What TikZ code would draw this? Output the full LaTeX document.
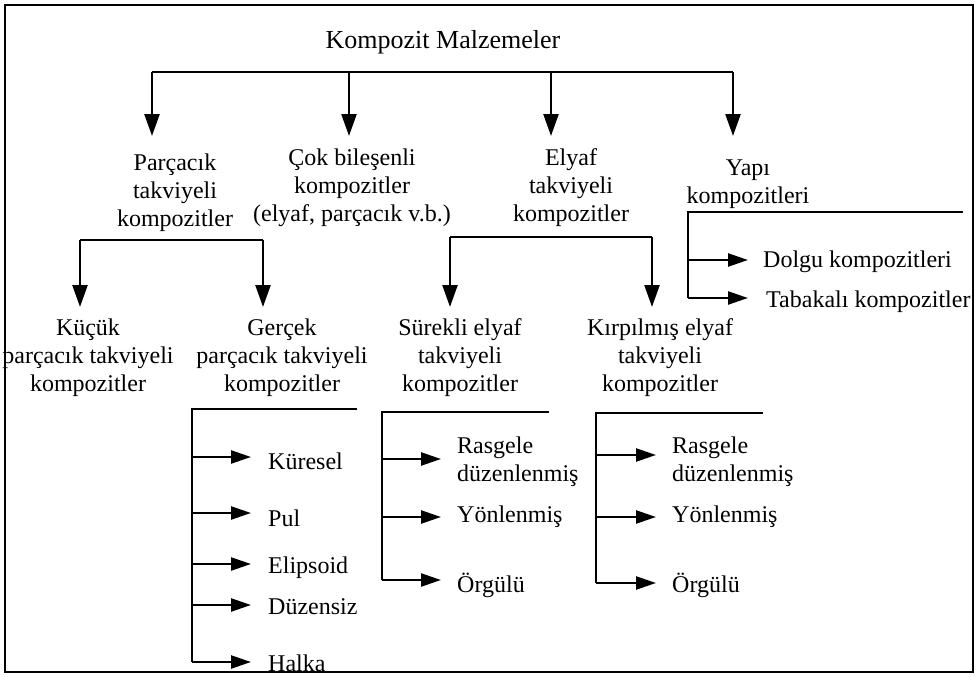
\documentclass[tikz,border=0pt]{standalone}
\usepackage{fontspec}
\setmainfont{Liberation Serif}
\usetikzlibrary{arrows.meta}
\begin{document}
\begin{tikzpicture}[x=1pt,y=-1pt,
  lbl/.style={font=\fontsize{24}{28}\selectfont, inner sep=0pt, align=center},
  lft/.style={lbl, align=left, anchor=west},
  ln/.style={line width=2.4pt},
  arr/.style={ln, -{Triangle[length=22pt,width=15pt]}},
  sarr/.style={ln, -{Triangle[length=20pt,width=13pt]}}]
\useasboundingbox (0,0) rectangle (978,677);
\draw[line width=2.8pt] (5,5) rectangle (973,672);

% root
\node[lbl, font=\fontsize{26}{30}\selectfont] (root) at (443,42) {Kompozit Malzemeler};

% level 2
\node[lbl] (P) at (175,193) {Parçacık\\takviyeli\\kompozitler};
\node[lbl] (C) at (352,188) {Çok bileşenli\\kompozitler\\(elyaf, parçacık v.b.)};
\node[lbl] (E) at (571,188) {Elyaf\\takviyeli\\kompozitler};
\node[lbl] (Y) at (748,184) {Yapı\\kompozitleri};

\coordinate (j1a) at (152,72);
\coordinate (j1b) at (349,72);
\coordinate (j1c) at (551,72);
\coordinate (j1d) at (733,72);
\coordinate (e1a) at (152,136);
\coordinate (e1b) at (349,136);
\coordinate (e1c) at (551,136);
\coordinate (e1d) at (733,136);
\draw[ln] (j1a) -- (j1d);
\draw[arr] (j1a) -- (e1a);
\draw[arr] (j1b) -- (e1b);
\draw[arr] (j1c) -- (e1c);
\draw[arr] (j1d) -- (e1d);

% level 3
\node[lbl] (K) at (88,358) {Küçük\\parçacık takviyeli\\kompozitler};
\node[lbl] (G) at (282,358) {Gerçek\\parçacık takviyeli\\kompozitler};
\node[lbl] (S) at (460,358) {Sürekli elyaf\\takviyeli\\kompozitler};
\node[lbl] (R) at (660,358) {Kırpılmış elyaf\\takviyeli\\kompozitler};

\coordinate (pL) at (80,240);
\coordinate (pR) at (263,240);
\coordinate (pLe) at (80,307);
\coordinate (pRe) at (263,307);
\draw[ln] (pL) -- (pR);
\draw[arr] (pL) -- (pLe);
\draw[arr] (pR) -- (pRe);

\coordinate (eL) at (450,237);
\coordinate (eR) at (652,237);
\coordinate (eLe) at (450,307);
\coordinate (eRe) at (652,307);
\draw[ln] (eL) -- (eR);
\draw[arr] (eL) -- (eLe);
\draw[arr] (eR) -- (eRe);

% Yapi list
\node[lft] (Y1) at (763,262) {Dolgu kompozitleri};
\node[lft] (Y2) at (766,302) {Tabakalı kompozitler};
\coordinate (yT) at (688,212);
\coordinate (yTR) at (963,212);
\coordinate (y1) at (688,260);
\coordinate (y2) at (688,298);
\coordinate (y1e) at (748,260);
\coordinate (y2e) at (748,298);
\draw[ln] (yTR) -- (yT) -- (y2);
\draw[sarr] (y1) -- (y1e);
\draw[sarr] (y2) -- (y2e);

% Gercek list
\node[lft] (G1) at (268,461) {Küresel};
\node[lft] (G2) at (268,518) {Pul};
\node[lft] (G3) at (268,568) {Elipsoid};
\node[lft] (G4) at (268,607) {Düzensiz};
\node[lft] (G5) at (268,663) {Halka};
\coordinate (gT) at (192,409);
\coordinate (gTR) at (357,409);
\draw[ln] (gTR) -- (gT) -- (192,662);
\foreach \yy/\nm in {457/g1,513/g2,564/g3,605/g4,662/g5}{
  \coordinate (\nm) at (192,\yy);
  \coordinate (\nm e) at (251,\yy);
  \draw[sarr] (\nm) -- (\nm e);
}

% Surekli list
\node[lft] (S1) at (457,462) {Rasgele\\düzenlenmiş};
\node[lft] (S2) at (457,517) {Yönlenmiş};
\node[lft] (S3) at (457,585) {Örgülü};
\coordinate (sT) at (382,412);
\coordinate (sTR) at (549,412);
\draw[ln] (sTR) -- (sT) -- (382,580);
\foreach \yy/\nm in {459/s1,517/s2,580/s3}{
  \coordinate (\nm) at (382,\yy);
  \coordinate (\nm e) at (441,\yy);
  \draw[sarr] (\nm) -- (\nm e);
}

% Kirpilmis list
\node[lft] (R1) at (672,462) {Rasgele\\düzenlenmiş};
\node[lft] (R2) at (672,517) {Yönlenmiş};
\node[lft] (R3) at (672,585) {Örgülü};
\coordinate (rT) at (596,413);
\coordinate (rTR) at (763,413);
\draw[ln] (rTR) -- (rT) -- (596,583);
\foreach \yy/\nm in {455/r1,517/r2,583/r3}{
  \coordinate (\nm) at (596,\yy);
  \coordinate (\nm e) at (656,\yy);
  \draw[sarr] (\nm) -- (\nm e);
}
\end{tikzpicture}
\end{document}
